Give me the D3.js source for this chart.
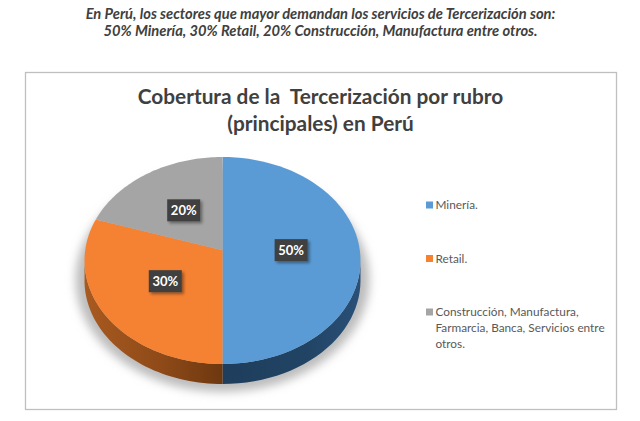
<!DOCTYPE html>
<html>
<head>
<meta charset="utf-8">
<script src="https://cdn.jsdelivr.net/npm/d3@7"></script>
<style>
  html, body { margin: 0; padding: 0; background: #fff; }
  svg { display: block; font-family: Lato, "Open Sans", sans-serif; }
</style>
</head>
<body>
<svg id="chart" width="640" height="421"></svg>
<script>
var headingLines = [
  'En Perú, los sectores que mayor demandan los servicios de Tercerización son:',
  '50% Minería, 30% Retail, 20% Construcción, Manufactura entre otros.'
];
var titleLines = ['Cobertura de la  Tercerización por rubro', '(principales) en Perú'];
var categories = ['Minería.', 'Retail.', 'Construcción, Manufactura, Farmarcia, Banca, Servicios entre otros.'];
var legendLines = [['Minería.'], ['Retail.'], ['Construcción, Manufactura,', 'Farmarcia, Banca, Servicios entre', 'otros.']];
var values = [50, 30, 20];
var colors = ['#5b9bd5', '#f58233', '#a5a5a5'];

var svg = d3.select('#chart');
var defs = svg.append('defs');

var cx = 222.5, cy = 260.5, rx = 138, ry = 103.5, depth = 20;
var tilt = 0.1; // perspective: the middle of the disc sits above the middle of the ellipse

// unit disc (u right, v up) to the page, through the tilted view
function project(u, v) {
  var k = 1 + tilt * v;
  return [
    cx + rx * u * Math.sqrt(1 - tilt * tilt) / k,
    cy - ry * (v + tilt) / k
  ];
}

function rimPoints(a0, a1) {
  var angle = d3.scaleLinear().domain([0, 1]).range([a0, a1]);
  return d3.range(0, 1.0001, 1 / 60).map(function (t) {
    var a = angle(t);
    return project(Math.sin(a), Math.cos(a));
  });
}

defs.append('filter').attr('id', 'blur').attr('x', '-20%').attr('y', '-20%').attr('width', '140%').attr('height', '140%')
  .append('feGaussianBlur').attr('stdDeviation', 5);

var labelShadow = defs.append('filter').attr('id', 'labelShadow').attr('x', '-30%').attr('y', '-30%').attr('width', '170%').attr('height', '170%');
labelShadow.append('feDropShadow').attr('dx', 2).attr('dy', 2).attr('stdDeviation', 1.5)
  .attr('flood-color', '#000').attr('flood-opacity', 0.4);

function sideGradient(id, stops) {
  var g = defs.append('linearGradient').attr('id', id).attr('x1', 0).attr('x2', 1).attr('y1', 0).attr('y2', 0);
  stops.forEach(function (s) {
    g.append('stop').attr('offset', s[0]).attr('stop-color', s[1]);
  });
}
sideGradient('side0', [[0, '#1f3d5c'], [0.6, '#214464'], [1, '#2a5078']]);
sideGradient('side1', [[0, '#a85a20'], [0.55, '#8f4a18'], [1, '#6e380f']]);

// frame
svg.append('rect').attr('x', 25.5).attr('y', 72.5).attr('width', 591).attr('height', 337)
  .attr('fill', '#fff').attr('stroke', '#bfbfbf').attr('stroke-width', 1.3);

// heading
svg.append('g').selectAll('text').data(headingLines).enter().append('text')
  .attr('x', 320.5).attr('y', function (d, i) { return 18.5 + i * 17.5; })
  .attr('text-anchor', 'middle').attr('fill', '#404040')
  .attr('font-size', 14.7).attr('font-style', 'italic').attr('font-weight', 700)
  .text(function (d) { return d; });

// chart title
svg.append('g').selectAll('text').data(titleLines).enter().append('text')
  .attr('x', 320.5).attr('y', function (d, i) { return 104 + i * 27; })
  .attr('text-anchor', 'middle').attr('fill', '#404040')
  .attr('font-size', 20.8).attr('font-weight', 700)
  .style('white-space', 'pre').attr('xml:space', 'preserve')
  .text(function (d) { return d; });

// pie
var pie = d3.pie().sort(null)(values);
var arc = d3.arc().innerRadius(0).outerRadius(1);
var line = d3.line();

// soft shadow under the disc
svg.append('ellipse').attr('cx', cx).attr('cy', cy + 19).attr('rx', rx + 9).attr('ry', ry + 9)
  .attr('fill', '#bcbcbc').attr('filter', 'url(#blur)');

// rim: only the part of each slice on the lower half of the ellipse
function rimPath(d) {
  var top = rimPoints(d.startAngle, d.endAngle).filter(function (p) { return p[1] >= cy; });
  if (!top.length) return null;
  var bottom = top.map(function (p) { return [p[0], p[1] + depth]; }).reverse();
  return line(top.concat(bottom)) + 'Z';
}

svg.append('g').selectAll('path').data(pie).enter().append('path')
  .attr('d', rimPath)
  .attr('fill', function (d, i) { return 'url(#side' + i + ')'; });

svg.append('g').selectAll('path').data(pie).enter().append('path')
  .attr('d', function (d) {
    return line([project(0, 0)].concat(rimPoints(d.startAngle, d.endAngle))) + 'Z';
  })
  .attr('fill', function (d, i) { return colors[i]; });

// value labels
var labels = svg.append('g').selectAll('g').data(pie).enter().append('g')
  .attr('transform', function (d) {
    var c = arc.centroid(d);
    var p = project(c[0], -c[1]);
    return 'translate(' + p[0] + ',' + p[1] + ')';
  });
labels.append('rect').attr('x', -16.5).attr('y', -11).attr('width', 33).attr('height', 22)
  .attr('fill', '#404040').attr('filter', 'url(#labelShadow)');
labels.append('text').attr('text-anchor', 'middle').attr('y', 4.5)
  .attr('fill', '#fff').attr('font-size', 13).attr('font-weight', 700)
  .text(function (d) { return d.value + '%'; });

// legend
var legendY = d3.scalePoint().domain(categories).range([205, 312]);
var legend = svg.append('g').selectAll('g').data(categories).enter().append('g')
  .attr('transform', function (d) { return 'translate(426,' + legendY(d) + ')'; });
legend.append('rect').attr('x', 0).attr('y', -3.5).attr('width', 7).attr('height', 7)
  .attr('fill', function (d, i) { return colors[i]; });
legend.each(function (d, i) {
  d3.select(this).selectAll('text').data(legendLines[i]).enter().append('text')
    .attr('x', 9.5).attr('y', function (l, j) { return 4 + j * 16; })
    .attr('fill', '#595959').attr('font-size', 11.8)
    .text(function (l) { return l; });
});
</script>
</body>
</html>
